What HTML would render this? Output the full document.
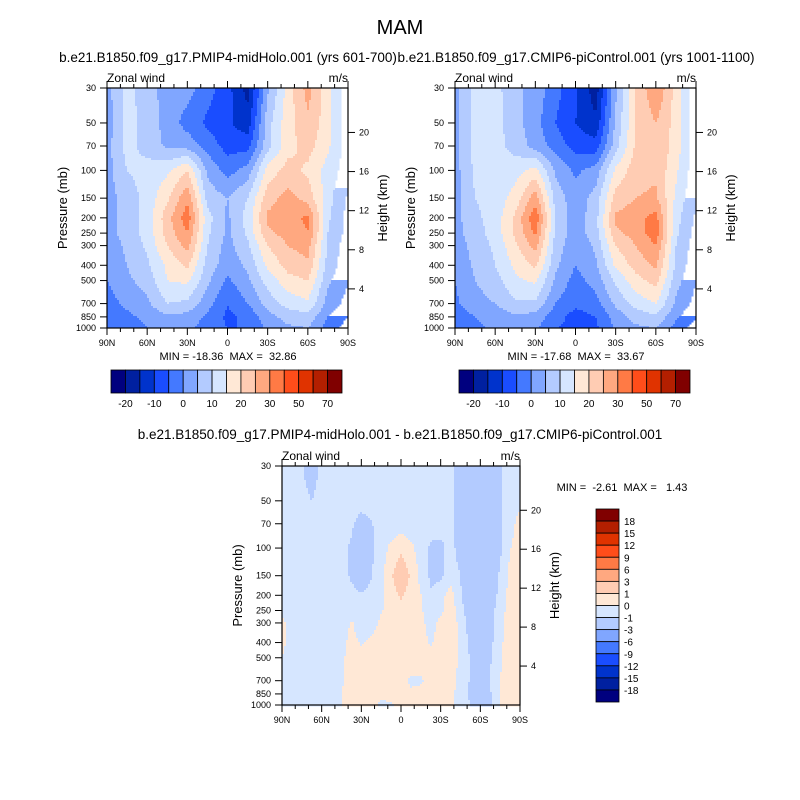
<!DOCTYPE html>
<html><head><meta charset="utf-8">
<style>
body{margin:0;background:#fff;}
svg{display:block;font-family:"Liberation Sans",Arial,sans-serif;}
.pre{white-space:pre;}
</style></head>
<body>
<svg id="fig" width="800" height="800" viewBox="0 0 800 800">
<rect width="800" height="800" fill="#fff"/>
<text x="400" y="34" font-size="20" text-anchor="middle">MAM</text>
<text x="228" y="62" font-size="13.5" text-anchor="middle">b.e21.B1850.f09_g17.PMIP4-midHolo.001 (yrs 601-700)</text>
<text x="576" y="62" font-size="13.5" text-anchor="middle">b.e21.B1850.f09_g17.CMIP6-piControl.001 (yrs 1001-1100)</text>
<text x="400" y="439" font-size="13.5" text-anchor="middle">b.e21.B1850.f09_g17.PMIP4-midHolo.001 - b.e21.B1850.f09_g17.CMIP6-piControl.001</text>
</svg>
<script>
// ---- data ----
const pLevels=[30,50,70,100,150,200,250,300,400,500,700,850,1000];
const lat13=[90,75,60,45,30,15,0,-15,-30,-45,-60,-75,-90];
const lat25=[90,82.5,75,67.5,60,52.5,45,37.5,30,22.5,15,7.5,0,-7.5,-15,-22.5,-30,-37.5,-45,-52.5,-60,-67.5,-75,-82.5,-90];
const levelsMain=[-20,-15,-10,-5,0,5,10,15,20,25,30,40,50,60,70];
const levelsDiff=[-18,-15,-12,-9,-6,-3,-1,0,1,3,6,9,12,15,18];
const colors=["#00007f","#0020a0","#0033cc","#1a4dff","#4479ff","#80a6ff","#b3cbff","#d6e6ff","#ffe8d6","#ffccb3","#ffa880","#ff7a45","#ff4d1a","#e03300","#b31f00","#800000"];
const mainLabels=["-20","-10","0","10","20","30","50","70"];
const diffLabels=["18","15","12","9","6","3","1","0","-1","-3","-6","-9","-12","-15","-18"];
const pTickLabels=["30","50","70","100","150","200","250","300","400","500","700","850","1000"];
const kmTicks=[4,8,12,16,20];
const lonTicks=["90N","60N","30N","0","30S","60S","90S"];
const uMidHolo=[
[3,12,7,3,2,-3,-8,-17,4,17,27,17,7],
[2,12,8,3,-2,-6,-9,-13,8,18,24,17,7],
[3,12,8,4,3,-2,-7,-7,8,18,22,16,7],
[3,10,12,14,20,4,-2,2,17,22,19,13,7],
[3,7,12,19,29,8,5,10,23,27,23,12,4],
[3,7,12,23,33,12,4,12,26,28,31,11,3],
[3,7,12,22,30,11,4,11,24,27,30,10,3],
[2,6,11,20,27,10,3,9,20,25,27,9,2],
[1,5,9,16,21,8,2,6,16,22,24,8,1],
[0,4,7,15,16,6,-1,4,12,18,20,6,0],
[-2,1,4,10,9,2,-5,0,7,12,14,3,-2],
[-4,-1,1,4,3,-1,-6,-4,3,7,8,0,-5],
[-5,-2,0,1,1,-2,-5,-5,1,4,5,-2,-8]];
const uPiControl=[
[3,12,12,6,3,-3,-9,-18,4,20,30,18,6],
[3,12,12,7,2,-5,-10,-14,6,20,25,18,6],
[3,12,12,8,3,-2,-7,-8,8,21,24,18,6],
[3,11,12,13,17,4,-1,2,16,23,24,16,6],
[3,10,12,17,28,8,2,7,22,25,26,14,5],
[3,9,12,21,34,10,2,8,26,28,32,12,4],
[3,8,12,21,31,9,2,8,24,27,33,11,3],
[2,7,11,19,27,8,1,6,20,25,30,10,2],
[1,6,10,16,21,6,0,4,16,22,26,9,1],
[0,5,8,14,16,4,-2,2,11,18,22,7,0],
[-1,3,5,9,9,0,-4,-2,6,12,15,4,-2],
[-3,0,2,4,3,-3,-7,-5,2,7,9,1,-5],
[-4,-1,1,2,1,-5,-6,-6,1,4,5,-2,-8]];
const uDiff=[
[-.5,-.5,-.9,-1.8,-.6,-.5,-.5,-.5,-.5,-.5,-.5,-.5,-.5,-.5,-.5,-.5,-.5,-.6,-1.6,-2,-2,-2,-1.1,-.5,-.3],
[-.5,-.5,-.6,-1.0,-.5,-.5,-.5,-.5,-.5,-.5,-.5,-.5,-.5,-.5,-.5,-.5,-.5,-.6,-1.5,-2,-2,-2,-1.1,-.5,-.3],
[-.5,-.5,-.5,-.5,-.5,-.5,-.5,-.8,-1.5,-1.1,-.5,-.5,-.5,-.5,-.5,-.5,-.5,-.6,-1.5,-2,-2,-2,-1.1,-.4,.4],
[-.5,-.5,-.5,-.5,-.5,-.5,-.6,-1.2,-2,-1.2,-.4,.2,.7,.2,-.4,-1.2,-1.3,-.6,-1.5,-2,-2,-2,-1.2,-.05,.5],
[-.5,-.5,-.5,-.5,-.5,-.5,-.5,-1.2,-1.8,-1.1,-.3,.8,2,.8,-.3,-1.2,-1.2,-.5,-1.0,-2,-2,-2,-.8,.3,.6],
[-.5,-.5,-.5,-.5,-.5,-.5,-.5,-.6,-.9,-.6,-.3,.6,1.1,.6,.05,-.9,-.4,.5,-.9,-2,-2,-1.8,-.6,.3,.6],
[-.3,-.5,-.5,-.5,-.5,-.5,-.5,-.5,-.5,-.4,-.1,.5,.8,.5,.1,-.4,-.2,.5,-.5,-1.8,-2,-1.5,-.4,.4,.6],
[.3,-.5,-.5,-.5,-.5,-.5,-.5,.1,-.5,-.4,.2,.5,.6,.5,.2,-.3,.2,.6,-.3,-1.5,-2,-1.5,-.3,.4,.6],
[.3,-.5,-.5,-.5,-.5,-.5,-.3,.3,-.1,.2,.4,.5,.5,.5,.3,-.1,.4,.5,-.2,-1.3,-2,-1.3,-.2,.5,.6],
[0,-.5,-.5,-.5,-.5,-.5,-.2,.4,.4,.4,.4,.4,.4,.4,.4,.4,.4,.4,-.1,-1.1,-2,-1.1,-.1,.5,.5],
[-.5,-.5,-.5,-.5,-.5,-.5,-.1,.4,.4,.4,.4,.3,.2,-.1,-.1,.3,.4,.3,-.3,-1.1,-1.8,-1,0,.4,.4],
[-.5,-.5,-.5,-.5,-.5,-.5,0,.3,.3,.3,.2,.3,.3,.1,.2,.3,.3,.3,-.4,-1.2,-1.5,-1.1,.1,.3,.3],
[-.5,-.5,-.5,-.5,-.5,-.5,0,.3,.3,.3,-.2,-.1,.3,.2,.2,.3,.3,.3,-.4,-1,-1.2,-1.1,.1,.3,.3]];

// ---- helpers ----
const NS="http://www.w3.org/2000/svg";
const svg=document.getElementById('fig');
function mk(tag,attrs,parent){const e=document.createElementNS(NS,tag);for(const k in attrs)e.setAttribute(k,attrs[k]);(parent||svg).appendChild(e);return e;}
const LNR=Math.log(1000/30);
function yOfP(P,p){return P.y0+P.h*Math.log(p/30)/LNR;}
function colorIdx(v,levels){let i=0;while(i<levels.length&&v>=levels[i])i++;return i;}
function sample(grid,lats,lat,p){
  const n=lats.length;let fx=(90-lat)/180*(n-1);fx=Math.max(0,Math.min(n-1.0001,fx));
  const ix=Math.floor(fx),tx=fx-ix;
  const lp=Math.log(p);let iy=0;
  while(iy<pLevels.length-2&&lp>Math.log(pLevels[iy+1]))iy++;
  let ty=(lp-Math.log(pLevels[iy]))/(Math.log(pLevels[iy+1])-Math.log(pLevels[iy]));ty=Math.max(0,Math.min(1,ty));
  const a=grid[iy][ix],b=grid[iy][ix+1],c=grid[iy+1][ix],d=grid[iy+1][ix+1];
  return (a*(1-tx)+b*tx)*(1-ty)+(c*(1-tx)+d*tx)*ty;
}
function drawPanel(P,grid,lats,levels,name){
  const g=mk('g',{});
  
  
  const cs=2;
  for(let y=0;y<P.h;y+=cs){
    const p=30*Math.exp((y+cs/2)/P.h*LNR);
    let runStart=0,runC=-1;
    for(let x=0;x<=P.w;x+=cs){
      let c=-2;
      if(x<P.w){const lat=90-(x+cs/2)/P.w*180;c=colorIdx(sample(grid,lats,lat,p),levels);}
      if(c!==runC){
        if(runC>=0){const r=mk('rect',{x:P.x0+runStart,y:P.y0+y,width:Math.min(x,P.w)-runStart+0.5,height:cs+0.5,fill:colors[runC]},g);
          
          }
        runStart=x;runC=c;
      }
    }
  }
  const fr=mk('rect',{x:P.x0,y:P.y0,width:P.w,height:P.h,fill:'none',stroke:'#000','stroke-width':1.2});
  
  
  pLevels.forEach((p,i)=>{const y=yOfP(P,p);
    mk('line',{x1:P.x0-7,x2:P.x0,y1:y,y2:y,stroke:'#000'});
    const t=mk('text',{x:P.x0-11,y:y+3,'font-size':9,'text-anchor':'end'});t.textContent=pTickLabels[i];
    
    });
  kmTicks.forEach(h=>{const p=1000*Math.exp(-h/7);const y=yOfP(P,p);
    mk('line',{x1:P.x0+P.w,x2:P.x0+P.w+7,y1:y,y2:y,stroke:'#000'});
    const t=mk('text',{x:P.x0+P.w+11,y:y+3,'font-size':9});t.textContent=h;
    
    });
  for(let k=0;k<=18;k++){const x=P.x0+P.w*k/18;const L=(k%3===0)?7:4;
    mk('line',{x1:x,x2:x,y1:P.y0+P.h,y2:P.y0+P.h+L,stroke:'#000'});
    mk('line',{x1:x,x2:x,y1:P.y0,y2:P.y0-L,stroke:'#000'});}
  lonTicks.forEach((s,i)=>{const t=mk('text',{x:P.x0+P.w*i/6,y:P.y0+P.h+18,'font-size':9,'text-anchor':'middle'});t.textContent=s;
    
    });
  const yl=mk('text',{x:0,y:0,'font-size':13,'text-anchor':'middle',transform:`translate(${P.x0-40},${P.y0+P.h/2}) rotate(-90)`});yl.textContent='Pressure (mb)';
  
  
  const yr=mk('text',{x:0,y:0,'font-size':13,'text-anchor':'middle',transform:`translate(${P.x0+P.w+39},${P.y0+P.h/2}) rotate(-90)`});yr.textContent='Height (km)';
  
  
  const zl=mk('text',{x:P.x0,y:P.y0-6,'font-size':12});zl.textContent='Zonal wind';
  
  
  const ul=mk('text',{x:P.x0+P.w,y:P.y0-6,'font-size':12,'text-anchor':'end'});ul.textContent='m/s';
  
  
}
function hBar(x0,y0,w,h){
  const bw=w/16;
  colors.forEach((c,i)=>{const r=mk('rect',{x:x0+i*bw,y:y0,width:bw,height:h,fill:c,stroke:'#000','stroke-width':0.8});
    
    });
  mainLabels.forEach((s,k)=>{const t=mk('text',{x:x0+(2*k+1)*bw,y:y0+h+14,'font-size':10,'text-anchor':'middle'});t.textContent=s;
    
    });
}
const P1={x0:107,y0:88,w:241,h:240},P2={x0:455,y0:88,w:241,h:240},P3={x0:282,y0:466,w:238,h:239};
drawPanel(P1,uMidHolo,lat13,levelsMain,'midholo');
drawPanel(P2,uPiControl,lat13,levelsMain,'picontrol');
drawPanel(P3,uDiff,lat25,levelsDiff,'difference');
[[228,'MIN = -18.36  MAX =  32.86'],[576,'MIN = -17.68  MAX =  33.67']].forEach(a=>{
  const t=mk('text',{x:a[0],y:360,'font-size':11,'text-anchor':'middle','class':'pre'});t.textContent=a[1];
  
  });
const t3=mk('text',{x:622,y:491,'font-size':11,'text-anchor':'middle','class':'pre'});t3.textContent='MIN =  -2.61  MAX =   1.43';


hBar(111,370,231,23);
hBar(459,370,231,23);
const vb={x:596,y:509,w:23,h:193};const bh=vb.h/16;
for(let i=0;i<16;i++){const r=mk('rect',{x:vb.x,y:vb.y+i*bh,width:vb.w,height:bh,fill:colors[15-i],stroke:'#000','stroke-width':0.8});
  
  }
diffLabels.forEach((s,k)=>{const t=mk('text',{x:vb.x+vb.w+5,y:vb.y+(k+1)*bh+4,'font-size':10});t.textContent=s;
  
  });
</script>
</body></html>
